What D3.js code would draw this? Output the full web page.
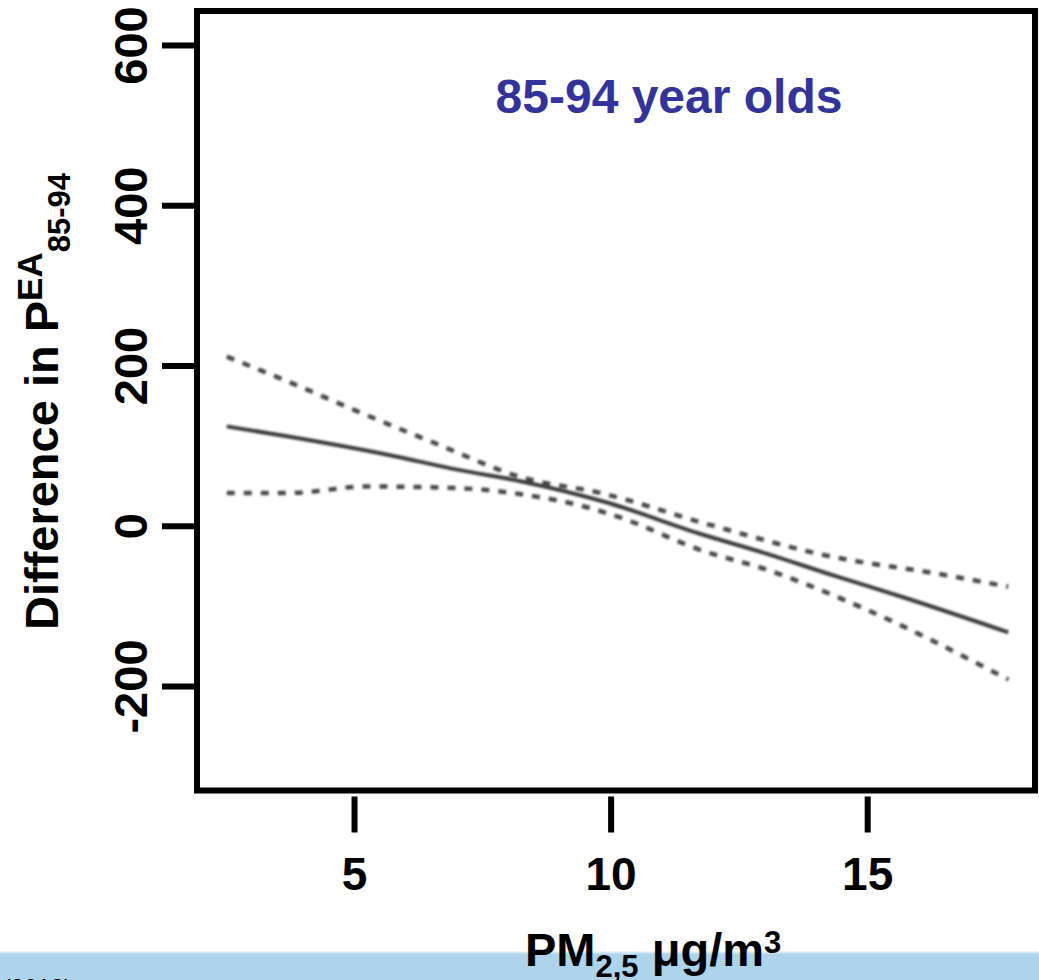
<!DOCTYPE html>
<html>
<head>
<meta charset="utf-8">
<script src="https://cdn.jsdelivr.net/npm/d3@7/dist/d3.min.js"></script>
<style>
  html, body { margin: 0; padding: 0; background: #fff; }
  svg { display: block; }
  text { font-family: "Liberation Sans", Arial, Helvetica, sans-serif; font-weight: bold; }
</style>
</head>
<body>
<svg id="chart" width="1039" height="980"></svg>
<script>
// PM2.5 exposure (µg/m3) against difference in P^EA for 85-94 year olds
const pmEstimate = [2.52, 3.75, 5.70, 7.01, 8.29, 9.93, 11.74, 13.05, 14.34, 15.64, 17.75];
const diffEstimate = [124, 111, 88, 70, 55, 29, -10, -35, -62, -88, -133];

const pmUpper = [2.52, 3.75, 5.06, 6.54, 8.29, 9.80, 11.94, 14.34, 16.29, 17.75];
const diffUpper = [211, 179, 143, 104, 60, 41, 1, -39, -59, -76];

const pmLower = [2.52, 3.75, 5.25, 7.01, 8.29, 9.60, 10.20, 11.74, 13.05, 15.00, 17.75];
const diffLower = [41, 41, 49, 47, 39, 22, 10, -30, -55, -105, -192];

const xTicks = [5, 10, 15];
const yTicks = [600, 400, 200, 0, -200];
const panelTitle = "85-94 year olds";

const svg = d3.select("#chart");

// plot frame
const box = { left: 197, right: 1035, top: 11, bottom: 790.5 };

const x = d3.scaleLinear().domain([1.94, 18.27]).range([box.left, box.right]);
const y = d3.scaleLinear().domain([-330.4, 642.4]).range([box.bottom, box.top]);

// soft rendering for the fitted curves
const defs = svg.append("defs");
defs.append("filter").attr("id", "soft")
  .attr("x", "-5%").attr("y", "-5%").attr("width", "110%").attr("height", "110%")
  .append("feGaussianBlur").attr("stdDeviation", 0.9);

// light-blue strip along the bottom
svg.append("rect").attr("x", 0).attr("y", 953).attr("width", 1039).attr("height", 27)
  .attr("fill", "#aed4ec");
svg.append("rect").attr("x", 0).attr("y", 951.5).attr("width", 1039).attr("height", 2)
  .attr("fill", "#d6e9f5");
svg.append("text").attr("x", 72).attr("y", 996).attr("text-anchor", "end")
  .attr("font-size", 24).style("font-weight", "normal").attr("fill", "#000")
  .text("(2013)");

// frame
svg.append("rect")
  .attr("x", box.left).attr("y", box.top)
  .attr("width", box.right - box.left).attr("height", box.bottom - box.top)
  .attr("fill", "none").attr("stroke", "#000").attr("stroke-width", 6);

// plain hyphen-minus tick labels
const plainFormat = d => String(d);

// y axis: detached ticks with rotated labels
const yAxis = svg.append("g")
  .attr("transform", `translate(${box.left - 3},0)`)
  .call(d3.axisLeft(y).tickValues(yTicks).tickSize(32).tickFormat(plainFormat));
yAxis.select(".domain").remove();
yAxis.selectAll(".tick line").attr("stroke", "#000").attr("stroke-width", 6);
yAxis.selectAll(".tick text")
  .attr("x", null).attr("dy", null)
  .attr("transform", "translate(-47,0) rotate(-90)")
  .attr("text-anchor", "middle")
  .attr("font-size", 47).attr("fill", "#000")
  .style("font-family", "'Liberation Sans', Arial, sans-serif").style("font-weight", "bold");

// x axis: ticks sit just below the frame
const xAxis = svg.append("g")
  .attr("transform", `translate(0,${box.bottom + 6})`)
  .call(d3.axisBottom(x).tickValues(xTicks).tickSize(36).tickFormat(plainFormat));
xAxis.select(".domain").remove();
xAxis.selectAll(".tick line").attr("stroke", "#000").attr("stroke-width", 6);
xAxis.selectAll(".tick text")
  .attr("y", 93).attr("dy", null)
  .attr("text-anchor", "middle")
  .attr("font-size", 46).attr("fill", "#000")
  .style("font-family", "'Liberation Sans', Arial, sans-serif").style("font-weight", "bold");

// fitted curve and confidence bounds
const line = d3.line()
  .x(d => x(d[0]))
  .y(d => y(d[1]))
  .curve(d3.curveMonotoneX);

const zipSeries = (xs, ys) => xs.map((v, i) => [v, ys[i]]);

const curves = svg.append("g").attr("filter", "url(#soft)");
curves.append("path")
  .datum(zipSeries(pmUpper, diffUpper))
  .attr("d", line)
  .attr("fill", "none").attr("stroke", "#4a4a4a").attr("stroke-width", 4.5)
  .attr("stroke-dasharray", "8,9");
curves.append("path")
  .datum(zipSeries(pmLower, diffLower))
  .attr("d", line)
  .attr("fill", "none").attr("stroke", "#4a4a4a").attr("stroke-width", 4.5)
  .attr("stroke-dasharray", "8,9");
curves.append("path")
  .datum(zipSeries(pmEstimate, diffEstimate))
  .attr("d", line)
  .attr("fill", "none").attr("stroke", "#3e3e3e").attr("stroke-width", 4);

// panel title
svg.append("text")
  .attr("x", 669).attr("y", 113)
  .attr("text-anchor", "middle")
  .attr("font-size", 48).attr("fill", "#333399")
  .text(panelTitle);

// y axis title with super/subscripts
const yTitle = svg.append("text")
  .attr("transform", "translate(58,630) rotate(-90)")
  .attr("font-size", 47).attr("fill", "#000");
yTitle.append("tspan").text("Difference in P");
yTitle.append("tspan").attr("font-size", 35).attr("dy", -16).text("EA");
yTitle.append("tspan").attr("font-size", 31).attr("dy", 28).text("85-94");

// x axis title
const xTitle = svg.append("text")
  .attr("x", 525).attr("y", 966)
  .attr("font-size", 47).attr("fill", "#000");
xTitle.append("tspan").text("PM");
xTitle.append("tspan").attr("font-size", 31).attr("dy", 11).text("2,5");
xTitle.append("tspan").attr("dy", -11).text(" μg/m");
xTitle.append("tspan").attr("font-size", 31).attr("dy", -13).text("3");
</script>
</body>
</html>
